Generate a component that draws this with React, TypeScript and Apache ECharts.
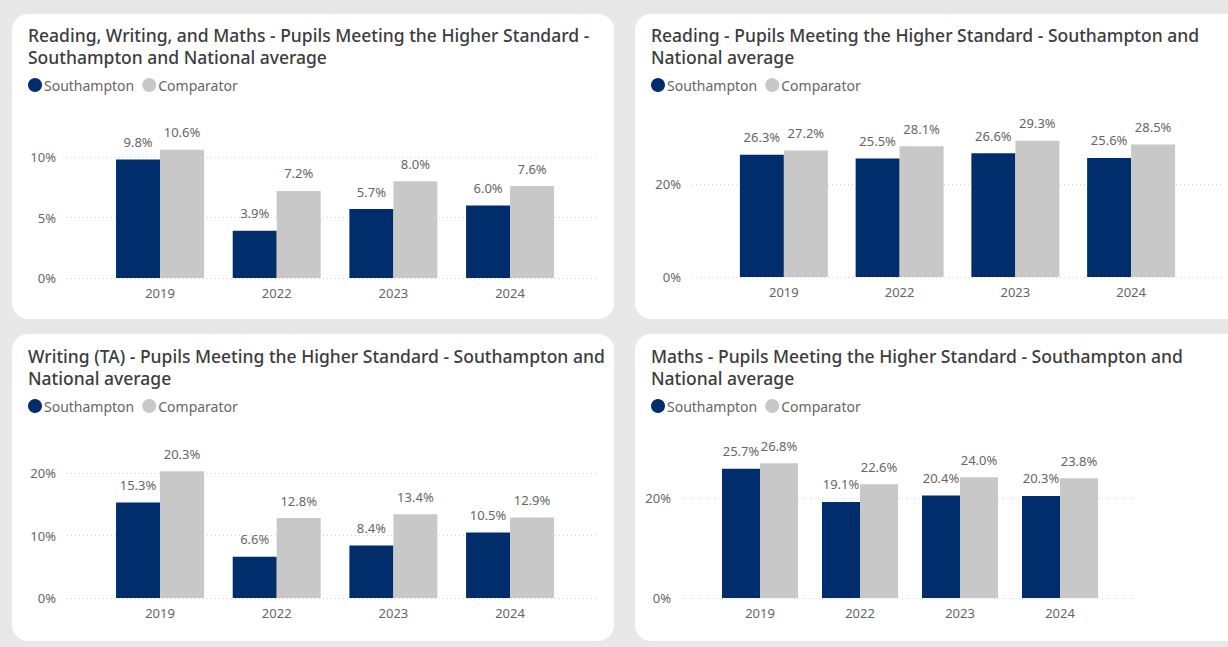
import React, { useEffect, useRef } from "react";
import * as echarts from "echarts";

const years = ["2019", "2022", "2023", "2024"];
const seriesNames = ["Southampton", "Comparator"];

const rwmSouthampton = [9.8, 3.9, 5.7, 6.0];
const rwmComparator = [10.6, 7.2, 8.0, 7.6];
const readingSouthampton = [26.3, 25.5, 26.6, 25.6];
const readingComparator = [27.2, 28.1, 29.3, 28.5];
const writingSouthampton = [15.3, 6.6, 8.4, 10.5];
const writingComparator = [20.3, 12.8, 13.4, 12.9];
const mathsSouthampton = [25.7, 19.1, 20.4, 20.3];
const mathsComparator = [26.8, 22.6, 24.0, 23.8];

const titles = [
  "Reading, Writing, and Maths - Pupils Meeting the Higher Standard -\nSouthampton and National average",
  "Reading - Pupils Meeting the Higher Standard - Southampton and\nNational average",
  "Writing (TA) - Pupils Meeting the Higher Standard - Southampton and\nNational average",
  "Maths - Pupils Meeting the Higher Standard - Southampton and\nNational average",
];

// tick axis settings per panel (top of tick axis, interval)
const tickMax = [10, 20, 20, 20];
const tickInterval = [5, 20, 10, 20];
const barAxisMax = [12, 30, 22, 28];

const NAVY = "#002D6C";
const GREY = "#C8C8C8";
const TEXT = "#666666";
const FONT = "'Noto Sans', Roboto, sans-serif";

// layout per panel
const panels = [
  { x: 12, y: 14, w: 602, h: 305, tx: 28, ty: 24, ly: 78,
    bar: { left: 101.7, width: 466.7, bottom: 278, top: 132.8, bw: 44 },
    tick: { left: 67, right: 598, top: 157, bottom: 278 } },
  { x: 635, y: 14, w: 610, h: 305, tx: 651, ty: 24, ly: 78,
    bar: { left: 726, width: 463, bottom: 277, top: 137.5, bw: 44 },
    tick: { left: 692, right: 1222, top: 184, bottom: 277 } },
  { x: 12, y: 334, w: 602, h: 307, tx: 28, ty: 345, ly: 399,
    bar: { left: 101.7, width: 466.7, bottom: 598, top: 460.5, bw: 44 },
    tick: { left: 67, right: 598, top: 473, bottom: 598 } },
  { x: 635, y: 334, w: 610, h: 307, tx: 651, ty: 345, ly: 399,
    bar: { left: 710, width: 400, bottom: 598, top: 457.2, bw: 38 },
    tick: { left: 682, right: 1137, top: 498, bottom: 598 } },
];

const panelData = [
  [rwmSouthampton, rwmComparator],
  [readingSouthampton, readingComparator],
  [writingSouthampton, writingComparator],
  [mathsSouthampton, mathsComparator],
];

const W = 1228;
const H = 647;

export default function App() {
  const ref = useRef<HTMLDivElement>(null);
  useEffect(() => {
    if (!ref.current) return;
    const chart = echarts.init(ref.current, undefined, { renderer: "svg" });

    const grids: any[] = [];
    const xAxes: any[] = [];
    const yAxes: any[] = [];
    const series: any[] = [];
    const title: any[] = [];
    const legend: any[] = [];

    panels.forEach((p, i) => {
      grids.push({
        left: p.bar.left,
        width: p.bar.width,
        top: p.bar.top,
        height: p.bar.bottom - p.bar.top,
      });
      xAxes.push({
        type: "category",
        gridIndex: i,
        data: years,
        axisLine: { show: false },
        axisTick: { show: false },
        axisLabel: { color: TEXT, fontSize: 13, fontFamily: FONT, margin: 8 },
      });
      yAxes.push({
        type: "value",
        gridIndex: i,
        min: 0,
        max: barAxisMax[i],
        show: false,
        splitLine: { show: false },
      });
      title.push({
        text: titles[i],
        left: p.tx,
        top: p.ty,
        padding: 0,
        textStyle: {
          fontFamily: FONT,
          fontSize: 17.5,
          fontWeight: 500,
          color: "#3c3c3c",
          lineHeight: 22,
        },
      });
      legend.push({
        left: p.tx,
        top: p.ly,
        padding: 0,
        icon: "circle",
        itemWidth: 14,
        itemHeight: 14,
        itemGap: 8,
        data: seriesNames,
        textStyle: { color: TEXT, fontSize: 14, fontFamily: FONT, padding: [0, 0, 0, -3] },
      });
      [NAVY, GREY].forEach((c, k) => {
        series.push({
          type: "bar",
          name: seriesNames[k],
          xAxisIndex: i,
          yAxisIndex: i,
          data: panelData[i][k],
          barWidth: p.bar.bw,
          barGap: "0%",
          itemStyle: { color: c },
          label: {
            show: true,
            position: "top",
            distance: 11,
            color: TEXT,
            fontSize: 13,
            fontFamily: FONT,
            formatter: (v: any) => Number(v.value).toFixed(1) + "%",
          },
        });
      });
    });

    panels.forEach((p, i) => {
      const gi = grids.length;
      grids.push({
        left: p.tick.left,
        width: p.tick.right - p.tick.left,
        top: p.tick.top,
        height: p.tick.bottom - p.tick.top,
        z: 0,
      });
      xAxes.push({ type: "value", gridIndex: gi, min: 0, max: 1, show: false });
      yAxes.push({
        type: "value",
        gridIndex: gi,
        min: 0,
        max: tickMax[i],
        interval: tickInterval[i],
        z: 0,
        axisLine: { show: false },
        axisTick: { show: false },
        axisLabel: {
          color: TEXT,
          fontSize: 13,
          fontFamily: FONT,
          margin: 11,
          formatter: "{value}%",
        },
        splitLine: {
          show: true,
          lineStyle: { color: "#d0d0d0", type: [1, 3], width: 1 },
        },
      });
    });

    chart.setOption({
      animation: false,
      backgroundColor: "#E8E8E8",
      graphic: panels.map((p) => ({
        type: "rect",
        z: -10,
        silent: true,
        shape: { x: p.x, y: p.y, width: p.w, height: p.h, r: 16 },
        style: { fill: "#ffffff" },
      })),
      title,
      legend,
      grid: grids,
      xAxis: xAxes,
      yAxis: yAxes,
      series,
    });
    return () => chart.dispose();
  }, []);
  return (
    <div
      ref={ref}
      style={{ position: "absolute", left: 0, top: 0, width: W, height: H }}
    />
  );
}
